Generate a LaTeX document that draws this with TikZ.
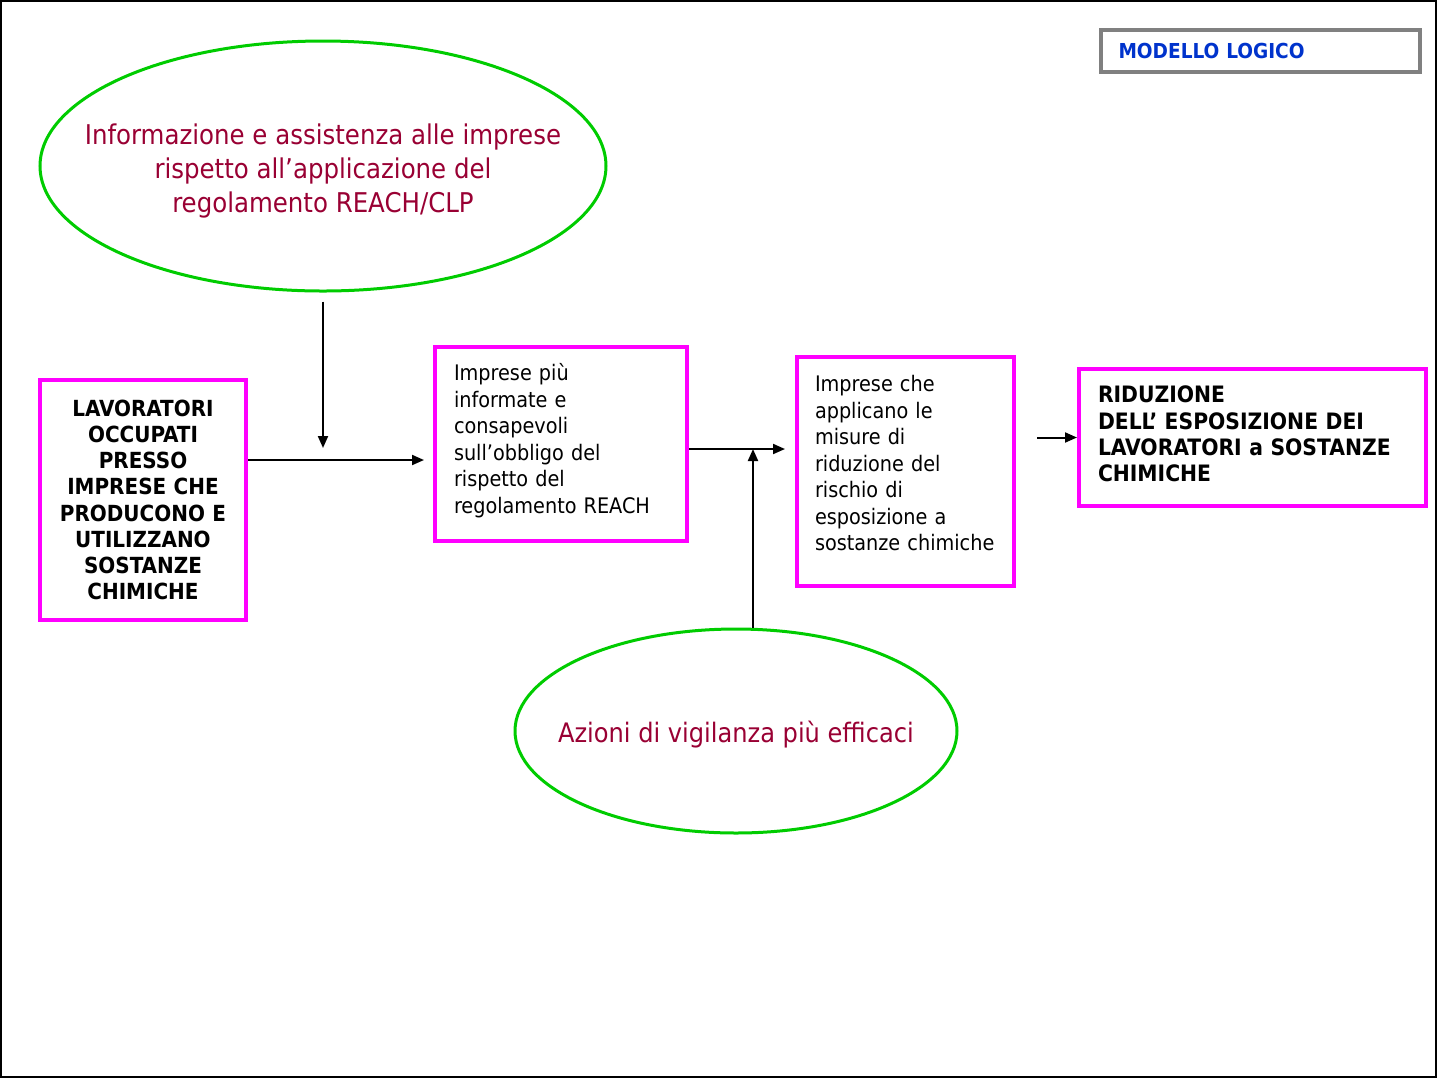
\documentclass[tikz,border=0pt]{standalone}
\usepackage{fontspec}
\setmainfont{DejaVu Sans Condensed}
\usetikzlibrary{arrows.meta,shapes.geometric}
\definecolor{magbox}{RGB}{255,0,255}
\definecolor{ellgreen}{RGB}{0,204,0}
\definecolor{darkred}{RGB}{153,0,51}
\definecolor{titleblue}{RGB}{0,51,204}
\definecolor{framegray}{RGB}{128,128,128}

\begin{document}
\begin{tikzpicture}[x=0.5pt,y=-0.5pt,>={Triangle[length=6pt,width=5pt]},line width=1pt]
\tikzstyle{box}=[draw=magbox,line width=2pt,inner xsep=9.5pt,inner ysep=0pt,font=\fontsize{10.7}{13.25}\selectfont,align=left]
\tikzstyle{bbox}=[box,font=\fontsize{11.3}{13.1}\selectfont\bfseries]
\tikzstyle{oval}=[ellipse,draw=ellgreen,line width=1.5pt,inner xsep=-60pt,inner ysep=-20pt]
\tikzstyle{ovaltext}=[text=darkred,align=center,font=\fontsize{13.6}{17}\selectfont]
\useasboundingbox (0,0) rectangle (1437,1078);
\draw (1,1) rectangle (1436,1077);
\node[draw=framegray,line width=2pt,minimum width=159.5pt,minimum height=21pt,text width=142pt,inner xsep=8.5pt,text=titleblue,font=\fontsize{10.3}{12}\selectfont\bfseries,align=left] (title) at (1260.5,51) {MODELLO LOGICO};
\node[oval,minimum width=283pt,minimum height=125pt,label={[ovaltext,yshift=-2.5pt]center:Informazione e assistenza alle imprese\\ rispetto all’applicazione del\\ regolamento REACH/CLP}] (info) at (323,166) {};
\node[oval,minimum width=221pt,minimum height=102pt,label={[ovaltext,font=\fontsize{13.4}{17}\selectfont,yshift=-2pt]center:Azioni di vigilanza più efficaci}] (vig) at (736,731) {};
\node[bbox,align=center,minimum width=103pt,minimum height=120pt,text width=84pt,font=\fontsize{11.1}{13.1}\selectfont\bfseries] (lav) at (143,500) {LAVORATORI\\ OCCUPATI\\ PRESSO\\ IMPRESE CHE\\ PRODUCONO E\\ UTILIZZANO\\ SOSTANZE\\ CHIMICHE};
\node[box,minimum width=126pt,minimum height=97pt,text width=107pt,text depth=72pt] (imp) at (561,444) {Imprese più\\ informate e\\ consapevoli\\ sull’obbligo del\\ rispetto del\\ regolamento REACH};
\node[box,inner xsep=9pt,minimum width=108.5pt,minimum height=114.5pt,text width=90.5pt,text depth=88pt] (app) at (905.5,471.5) {Imprese che\\ applicano le\\ misure di\\ riduzione del\\ rischio di\\ esposizione a\\ sostanze chimiche};
\node[bbox,minimum width=173.5pt,minimum height=68.5pt,text width=154.5pt,text depth=43pt] (rid) at (1252.5,437.5) {RIDUZIONE\\ DELL’ ESPOSIZIONE DEI\\ LAVORATORI a SOSTANZE\\ CHIMICHE};
\coordinate (j1) at (323,460);
\coordinate (j2) at (753,449);
\draw[->,shorten <=4.5pt,shorten >=6pt] (info.south) -- (j1);
\draw[->,shorten >=4.5pt] (lav.east |- j1) -- (imp.west |- j1);
\draw[->,shorten >=5pt] (imp.east |- j2) -- (app.west |- j2);
\draw[->] (j2 |- vig.north) -- (j2);
\draw[->,shorten <=10.5pt] (app.east |- rid.west) -- (rid.west);
\end{tikzpicture}
\end{document}
